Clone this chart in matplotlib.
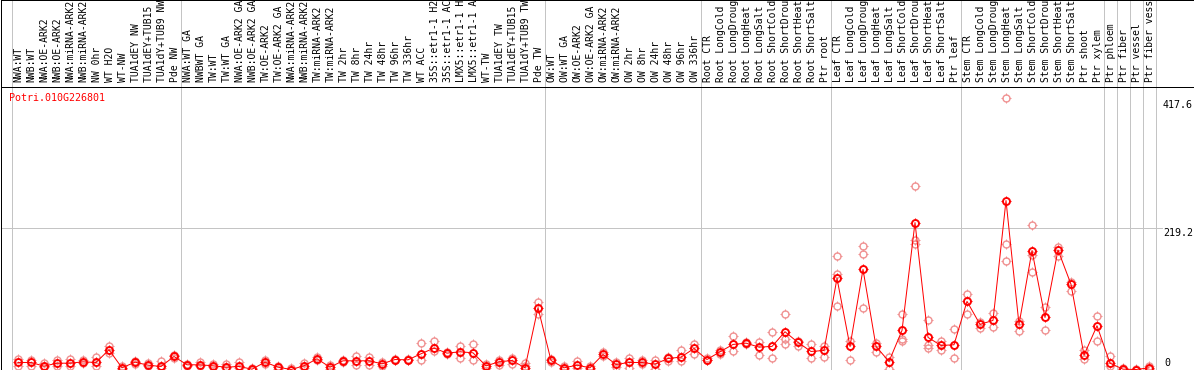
import numpy as np
import matplotlib
matplotlib.use("Agg")
import matplotlib.pyplot as plt
from matplotlib.path import Path
from matplotlib.transforms import blended_transform_factory

# ---------------- data ----------------
labels = [
    "NWA:WT", "NWB:WT", "NWA:OE-ARK2", "NWB:OE-ARK2", "NWA:miRNA-ARK2", "NWB:miRNA-ARK2",
    "NW 0hr", "WT H2O", "WT-NW", "TUA1dEY NW", "TUA1dEY+TUB15 ", "TUA1dY+TUB9 NW", "Pde NW",
    "NWA:WT GA", "NWBWT GA", "TW:WT", "TW:WT GA", "NWA:OE-ARK2 GA", "NWB:OE-ARK2 GA",
    "TW:OE-ARK2", "TW:OE-ARK2 GA", "NWA:miRNA-ARK2", "NWB:miRNA-ARK2", "TW:miRNA-ARK2",
    "TW:miRNA-ARK2", "TW 2hr", "TW 8hr", "TW 24hr", "TW 48hr", "TW 96hr", "TW 336hr",
    "WT ACC", "35S::etr1-1 H2", "35S::etr1-1 AC", "LMX5::etr1-1 H", "LMX5::etr1-1 A",
    "WT-TW", "TUA1dEY TW", "TUA1dEY+TUB15 ", "TUA1dY+TUB9 TW", "Pde TW",
    "OW:WT", "OW:WT GA", "OW:OE-ARK2", "OW:OE-ARK2 GA", "OW:miRNA-ARK2", "OW:miRNA-ARK2",
    "OW 2hr", "OW 8hr", "OW 24hr", "OW 48hr", "OW 96hr", "OW 336hr",
    "Root CTR", "Root LongCold", "Root LongDroug", "Root LongHeat", "Root LongSalt",
    "Root ShortCold", "Root ShortDrou", "Root ShortHeat", "Root ShortSalt", "Ptr root",
    "Leaf CTR", "Leaf LongCold", "Leaf LongDroug", "Leaf LongHeat", "Leaf LongSalt",
    "Leaf ShortCold", "Leaf ShortDrou", "Leaf ShortHeat", "Leaf ShortSalt", "Ptr leaf",
    "Stem CTR", "Stem LongCold", "Stem LongDroug", "Stem LongHeat", "Stem LongSalt",
    "Stem ShortCold", "Stem ShortDrou", "Stem ShortHeat", "Stem ShortSalt", "Ptr shoot",
    "Ptr xylem", "Ptr phloem", "Ptr fiber", "Ptr vessel", "Ptr fiber vess",
]

main_vals = [
    10.9, 10.9, 5.2, 9.8, 9.8, 11.9, 10.9, 30.6, 2.6, 11.4, 6.7, 4.7, 20.2,
    7.3, 7.3, 5.7, 3.6, 4.7, 0.5, 11.4, 3.6, 0.0, 5.7, 16.6, 3.6, 13.5, 13.5, 13.5,
    8.8, 15.5, 15.0, 24.4, 33.2, 25.4, 27.5, 25.9, 5.7, 11.9, 14.0, 2.6, 95.9,
    14.0, 2.6, 6.7, 2.6, 23.3, 7.8, 10.9, 10.9, 8.3, 17.1, 19.2, 32.6,
    15.5, 27.5, 38.9, 40.9, 34.7, 35.8, 58.6, 42.0, 28.0, 29.5,
    141.5, 35.8, 155.5, 35.8, 12.4, 60.6, 228.0, 49.8, 37.3, 38.4,
    105.7, 70.0, 76.2, 262.2, 70.0, 184.5, 80.8, 185.5, 132.2, 22.3, 67.9,
    9.8, 0.5, 0.0, 2.6,
]

nan = np.nan
rep_a = [
    16.6, 15.0, 9.8, 15.0, 16.0, 14.0, 19.2, 36.8, 5.7, 13.0, 9.8, 13.0, 22.3,
    8.8, 11.9, 8.8, 8.8, 11.9, 2.6, 14.0, 5.7, 3.0, 9.8, 19.2, 6.7, 15.0, 20.2, 19.2,
    11.9, 17.0, 16.0, 40.4, 44.6, 26.5, 35.8, 38.9, 8.8, 14.0, 17.1, 9.8, 104.0,
    16.0, 4.7, 13.0, 5.7, 26.4, 10.9, 18.1, 14.0, 15.0, 19.2, 29.5, 39.9,
    17.1, 30.6, 51.3, 42.0, 42.0, 58.6, 86.5, 44.0, 38.9, 35.8,
    176.7, 45.0, 191.2, 40.9, 19.2, 85.5, 285.5, 76.2, 44.0, 63.2,
    117.6, 74.1, 87.6, 420.8, 75.1, 224.9, 96.9, 190.2, 136.3, 30.6, 82.4,
    20.2, 2.6, 1.0, 4.7,
]
rep_b = [
    4.7, 4.7, 3.6, 4.7, 4.7, 9.8, 4.7, 25.4, 0.5, 8.8, 4.7, 2.6, 18.1,
    5.7, 4.7, 3.6, 1.6, 2.6, 0.0, 8.8, 0.5, 0.0, 2.6, 14.0, 0.5, 11.9, 6.7, 6.7,
    5.7, 14.0, 14.0, 14.0, 29.0, 23.3, 17.1, 15.0, 2.6, 6.7, 7.8, 5.7, 86.5,
    11.9, 0.5, 2.6, 0.5, 21.2, 3.6, 1.6, 7.8, 0.5, 13.0, 13.0, 24.4,
    14.0, 23.3, 28.5, 38.9, 21.8, 18.1, 47.2, 36.8, 18.1, 19.2,
    148.7, 14.0, 179.8, 27.5, 1.0, 47.7, 201.6, 37.3, 30.6, 17.1,
    85.5, 64.8, 65.8, 195.4, 59.6, 177.8, 61.7, 175.7, 121.8, 16.1, 45.0,
    5.0, 0.0, 0.0, 1.0,
]
rep_c = [nan] * 59 + [39.9, nan, nan, nan, 99.0, nan, 94.8, nan, nan, 45.0, 195.4,
                      33.7, nan, nan, nan, nan, nan, 168.4, nan, 151.8] + [nan] * 9

group_sizes = [13, 28, 12, 10, 10, 11, 1, 1, 1, 1]
gene_id = "Potri.010G226801"
ytick_vals = [0, 219.2, 417.6]
ytick_text = ["0", "219.2", "417.6"]

# ---------------- layout (pixels) ----------------
W, H = 1194, 370
DPI = 100
PT = 72.0 / DPI  # points per pixel
HEAD_BOT = 86.5
PLOT_BOT = 369.5
COL0 = 18.0       # pixel centre of first column
COLW = 13.0       # pixel width of a column
PX_PER_UNIT = 0.6432

fig = plt.figure(figsize=(W / DPI, H / DPI), dpi=DPI)
fig.patch.set_facecolor("white")


def px_axes(x0, y0, x1, y1):
    return fig.add_axes([x0 / W, 1 - y1 / H, (x1 - x0) / W, (y1 - y0) / H])


xmin = (0.5 - COL0) / COLW
xmax = (W - 0.5 - COL0) / COLW

ax_h = px_axes(0.5, 0.5, W - 0.5, HEAD_BOT)
ax = px_axes(0.5, HEAD_BOT, W - 0.5, PLOT_BOT)
for a in (ax_h, ax):
    a.set_xlim(xmin, xmax)
    a.set_xticks([])
    a.set_yticks([])
    for s in a.spines.values():
        s.set_color("black")
        s.set_linewidth(1.0 * PT)

ax_h.set_ylim(HEAD_BOT, 0.5)
ymax = (PLOT_BOT - 0.5 - HEAD_BOT) / PX_PER_UNIT
ax.set_ylim(0, ymax)

FONT = "DejaVu Sans Mono"
GRID = "#c4c4c4"

# group separators
bounds = np.concatenate([[0], np.cumsum(group_sizes)])
for b in bounds:
    for a in (ax_h, ax):
        a.axvline(b - 0.5, color=GRID, lw=1.0 * PT, zorder=0.5)

# horizontal grid line at middle tick
x_end = (1162 - COL0) / COLW
ax.plot([xmin, x_end], [ytick_vals[1], ytick_vals[1]], color=GRID, lw=1.0 * PT, zorder=0.5)

# header labels
for i, lab in enumerate(labels):
    ax_h.text(i + 0.05, 82.5, lab, rotation=90, ha="center", va="bottom",
              fontsize=7.0, family=FONT, color="black", clip_on=True)

# y tick labels
tr = blended_transform_factory(ax.transAxes, ax.transData)
xl = (1163 - 0.5) / (W - 1)
ax.text(xl, ytick_vals[2], ytick_text[2], transform=tr, ha="left", va="top",
        fontsize=7.2, family=FONT, color="black")
ax.text(xl, ytick_vals[1], ytick_text[1], transform=tr, ha="left", va="top",
        fontsize=7.2, family=FONT, color="black")
ax.text(xl + 1 / W, 5.0, ytick_text[0], transform=tr, ha="left", va="baseline",
        fontsize=7.2, family=FONT, color="black")

# gene id
ax.text(9 / W, (PLOT_BOT - 101.5) / PX_PER_UNIT, gene_id, transform=tr, ha="left",
        va="baseline", fontsize=7.2, family=FONT, color="red")

# custom tick marker (four short stubs around the circle)
verts, codes = [], []
for dx, dy in [(0, 1), (0, -1), (1, 0), (-1, 0)]:
    verts += [(0.72 * dx, 0.72 * dy), (dx, dy)]
    codes += [Path.MOVETO, Path.LINETO]
tick_marker = Path(verts, codes)

x = np.arange(len(main_vals))
PINK = "#f09292"
for reps in (rep_a, rep_b, rep_c):
    r = np.array(reps, dtype=float)
    ax.plot(x, r, linestyle="none", marker=tick_marker, ms=9.5 * PT, mec=PINK,
            mew=1.0 * PT, zorder=2, clip_on=True)
    ax.plot(x, r, linestyle="none", marker="o", ms=7 * PT, mfc="none", mec=PINK,
            mew=1.4 * PT, zorder=2.1, clip_on=True)

ax.plot(x, main_vals, color="red", lw=1.0 * PT, zorder=3, clip_on=True)
ax.plot(x, main_vals, linestyle="none", marker=tick_marker, ms=9.5 * PT, mec="red",
        mew=1.1 * PT, zorder=3.5, clip_on=True)
ax.plot(x, main_vals, linestyle="none", marker="o", ms=7 * PT, mfc="none", mec="red",
        mew=1.9 * PT, zorder=4, clip_on=True)

fig.savefig("out.png", dpi=DPI, facecolor="white")
